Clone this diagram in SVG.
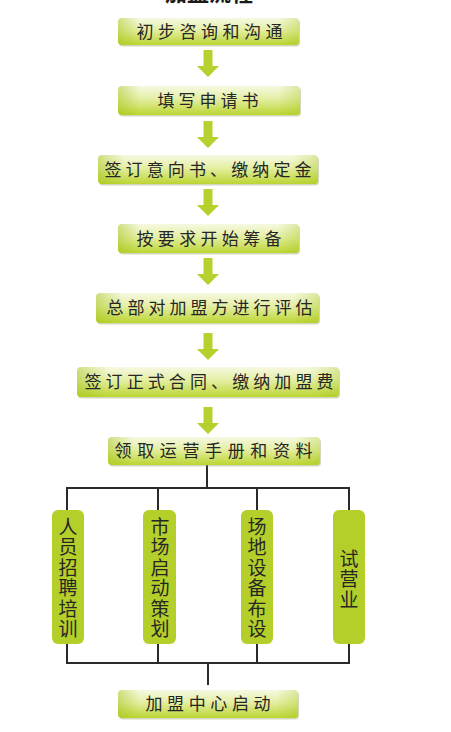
<svg xmlns="http://www.w3.org/2000/svg" width="451" height="732" viewBox="0 0 451 732">
<defs>
<linearGradient id="gv" x1="0" y1="0" x2="0" y2="1">
<stop offset="0" stop-color="#f6f9e2"/>
<stop offset="0.45" stop-color="#e4eea2"/>
<stop offset="1" stop-color="#bcd532"/>
</linearGradient>
<linearGradient id="gh" x1="0" y1="0" x2="1" y2="0">
<stop offset="0" stop-color="#9fbf10" stop-opacity="0.45"/>
<stop offset="0.12" stop-color="#9fbf10" stop-opacity="0"/>
<stop offset="0.88" stop-color="#9fbf10" stop-opacity="0"/>
<stop offset="1" stop-color="#9fbf10" stop-opacity="0.3"/>
</linearGradient>
<path id="arrow" d="M-4.5,0 H4.5 V16 H11 L0,27 L-11,16 H-4.5 Z"/>
</defs>
<style>
.box{fill:url(#gv);}
.ov{fill:url(#gh);}
.sh{fill:#9aa86a;opacity:0.45;}
.t{font-family:"Noto Sans CJK SC","Noto Sans",sans-serif;font-size:17px;fill:#262626;text-anchor:middle;}
.vt{font-family:"Noto Sans CJK SC","Noto Sans",sans-serif;font-size:19px;fill:#262626;text-anchor:middle;writing-mode:vertical-rl;letter-spacing:1.5px;}
.tall{fill:#b4cf2a;}
.arr{fill:#b6d12e;}
.ln{stroke:#2a2a2a;stroke-width:2;fill:none;}
.title{font-family:"Noto Sans CJK SC",sans-serif;font-size:22px;font-weight:bold;fill:#1a1a1a;text-anchor:middle;}
</style>
<rect width="451" height="732" fill="#ffffff"/>
<text class="title" x="209" y="0.5">加盟流程</text>

<g id="connectors">
<use href="#arrow" class="arr" x="208" y="50"/>
<use href="#arrow" class="arr" x="208" y="121"/>
<use href="#arrow" class="arr" x="208" y="189"/>
<use href="#arrow" class="arr" x="208" y="258"/>
<use href="#arrow" class="arr" x="208" y="333"/>
<use href="#arrow" class="arr" x="208" y="407"/>
<path class="ln" d="M207,465 V488 M67,488 H349 M67,487 V510 M158,487 V510 M257,487 V510 M349,487 V510"/>
<path class="ln" d="M67,644 V664 M158,644 V664 M257,644 V664 M349,644 V664 M66,663 H350 M208,663 V685"/>
</g>

<g id="n1">
<rect class="sh" x="119" y="19.5" width="181" height="27" rx="4"/>
<rect class="box" x="118" y="18" width="181" height="27" rx="4"/>
<rect class="ov" x="118" y="18" width="181" height="27" rx="4"/>
<text class="t" x="209.5" y="38" textLength="146" lengthAdjust="spacing">初步咨询和沟通</text>
</g>
<g id="n2">
<rect class="sh" x="119" y="87.5" width="182" height="29" rx="4"/>
<rect class="box" x="118" y="86" width="182" height="29" rx="4"/>
<rect class="ov" x="118" y="86" width="182" height="29" rx="4"/>
<text class="t" x="208" y="106.5" textLength="101" lengthAdjust="spacing">填写申请书</text>
</g>
<g id="n3">
<rect class="sh" x="99" y="156.5" width="220" height="29" rx="4"/>
<rect class="box" x="98" y="155" width="220" height="29" rx="4"/>
<rect class="ov" x="98" y="155" width="220" height="29" rx="4"/>
<text class="t" x="208" y="175.5" textLength="207" lengthAdjust="spacing">签订意向书、缴纳定金</text>
</g>
<g id="n4">
<rect class="sh" x="119" y="225.5" width="181" height="29" rx="4"/>
<rect class="box" x="118" y="224" width="181" height="29" rx="4"/>
<rect class="ov" x="118" y="224" width="181" height="29" rx="4"/>
<text class="t" x="209" y="244.5" textLength="145" lengthAdjust="spacing">按要求开始筹备</text>
</g>
<g id="n5">
<rect class="sh" x="97" y="294.5" width="223" height="30" rx="4"/>
<rect class="box" x="96" y="293" width="223" height="30" rx="4"/>
<rect class="ov" x="96" y="293" width="223" height="30" rx="4"/>
<text class="t" x="209.5" y="314" textLength="206" lengthAdjust="spacing">总部对加盟方进行评估</text>
</g>
<g id="n6">
<rect class="sh" x="78" y="368.5" width="262" height="30" rx="4"/>
<rect class="box" x="77" y="367" width="262" height="30" rx="4"/>
<rect class="ov" x="77" y="367" width="262" height="30" rx="4"/>
<text class="t" x="209" y="388" textLength="249" lengthAdjust="spacing">签订正式合同、缴纳加盟费</text>
</g>
<g id="n7">
<rect class="sh" x="109" y="438.5" width="212" height="28" rx="4"/>
<rect class="box" x="108" y="437" width="212" height="28" rx="4"/>
<rect class="ov" x="108" y="437" width="212" height="28" rx="4"/>
<text class="t" x="213.5" y="457" textLength="198" lengthAdjust="spacing">领取运营手册和资料</text>
</g>
<g id="n8">
<rect class="tall" x="52" y="510" width="32" height="134" rx="6"/>
<text class="vt" x="68" y="578.5">人员招聘培训</text>
</g>
<g id="n9">
<rect class="tall" x="143" y="510" width="33" height="134" rx="6"/>
<text class="vt" x="160" y="578.5">市场启动策划</text>
</g>
<g id="n10">
<rect class="tall" x="241" y="510" width="32" height="134" rx="6"/>
<text class="vt" x="257" y="578.5">场地设备布设</text>
</g>
<g id="n11">
<rect class="tall" x="333" y="510" width="32" height="134" rx="6"/>
<text class="vt" x="349" y="580">试营业</text>
</g>
<g id="n12">
<rect class="sh" x="119" y="691.5" width="180" height="28" rx="4"/>
<rect class="box" x="118" y="690" width="180" height="28" rx="4"/>
<rect class="ov" x="118" y="690" width="180" height="28" rx="4"/>
<text class="t" x="208" y="710" textLength="125" lengthAdjust="spacing">加盟中心启动</text>
</g>
</svg>
